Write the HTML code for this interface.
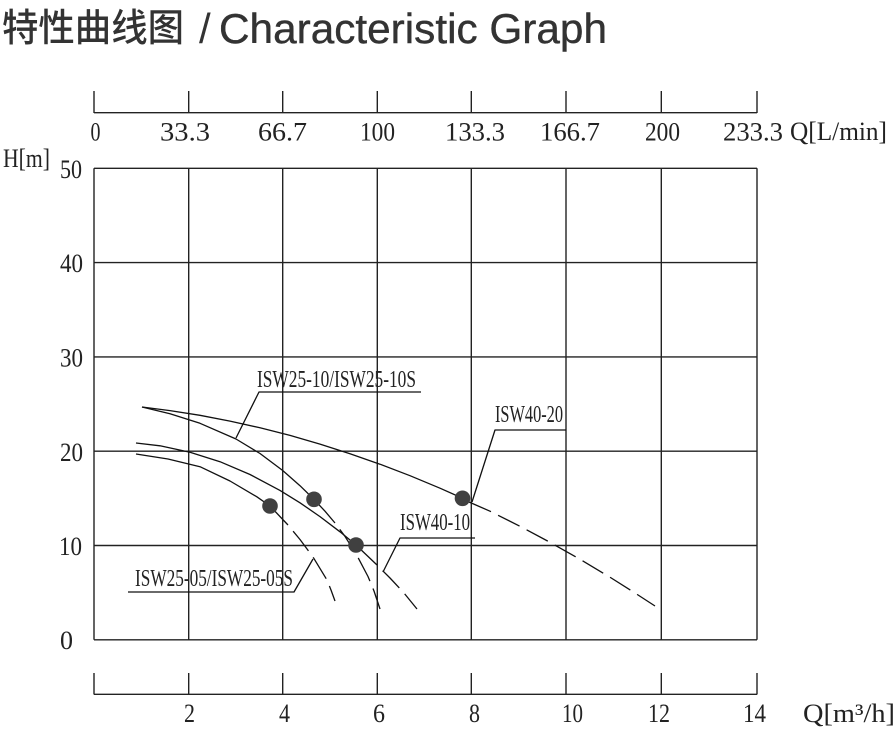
<!DOCTYPE html>
<html>
<head>
<meta charset="utf-8">
<style>
  html, body { margin: 0; padding: 0; background: #ffffff; }
  svg { display: block; }
</style>
</head>
<body>
<svg width="895" height="732" viewBox="0 0 895 732" xmlns="http://www.w3.org/2000/svg">
  <rect x="0" y="0" width="895" height="732" fill="#ffffff"/>

  <!-- Title -->
  <text x="2" y="41" font-family="'Noto Sans CJK SC', 'WenQuanYi Zen Hei', sans-serif" font-size="38" font-weight="500" fill="#333" textLength="182" lengthAdjust="spacingAndGlyphs">特性曲线图</text>
  <text x="199" y="43" font-family="'Liberation Sans', sans-serif" font-size="42" fill="#333">/</text>
  <text x="219" y="43" font-family="'Liberation Sans', sans-serif" font-size="42" fill="#333" stroke="#333" stroke-width="0.4" textLength="388" lengthAdjust="spacingAndGlyphs">Characteristic Graph</text>

  <g stroke="#222" stroke-width="1.4" fill="none">
    <!-- top axis -->
    <line x1="94" y1="112.7" x2="757" y2="112.7"/>
    <line x1="94" y1="91" x2="94" y2="113"/>
    <line x1="188.7" y1="91" x2="188.7" y2="113"/>
    <line x1="282.7" y1="91" x2="282.7" y2="113"/>
    <line x1="377.3" y1="91" x2="377.3" y2="113"/>
    <line x1="471.3" y1="91" x2="471.3" y2="113"/>
    <line x1="566" y1="91" x2="566" y2="113"/>
    <line x1="661.3" y1="91" x2="661.3" y2="113"/>
    <line x1="757" y1="91" x2="757" y2="113"/>

    <!-- bottom axis -->
    <line x1="94" y1="694.3" x2="757" y2="694.3"/>
    <line x1="94" y1="673" x2="94" y2="694.5"/>
    <line x1="188.7" y1="673" x2="188.7" y2="694.5"/>
    <line x1="282.7" y1="673" x2="282.7" y2="694.5"/>
    <line x1="377.3" y1="673" x2="377.3" y2="694.5"/>
    <line x1="471.3" y1="673" x2="471.3" y2="694.5"/>
    <line x1="566" y1="673" x2="566" y2="694.5"/>
    <line x1="661.3" y1="673" x2="661.3" y2="694.5"/>
    <line x1="757" y1="673" x2="757" y2="694.5"/>

    <!-- grid verticals -->
    <line x1="94" y1="168.3" x2="94" y2="639.8"/>
    <line x1="188.7" y1="168.3" x2="188.7" y2="639.8"/>
    <line x1="282.7" y1="168.3" x2="282.7" y2="639.8"/>
    <line x1="377.3" y1="168.3" x2="377.3" y2="639.8"/>
    <line x1="471.3" y1="168.3" x2="471.3" y2="639.8"/>
    <line x1="566" y1="168.3" x2="566" y2="639.8"/>
    <line x1="661.3" y1="168.3" x2="661.3" y2="639.8"/>
    <line x1="757" y1="168.3" x2="757" y2="639.8"/>

    <!-- grid horizontals -->
    <line x1="94" y1="168.3" x2="757" y2="168.3"/>
    <line x1="94" y1="262.6" x2="757" y2="262.6"/>
    <line x1="94" y1="356.9" x2="757" y2="356.9"/>
    <line x1="94" y1="451.2" x2="757" y2="451.2"/>
    <line x1="94" y1="545.5" x2="757" y2="545.5"/>
    <line x1="94" y1="639.8" x2="757" y2="639.8"/>
  </g>

  <!-- axis labels -->
  <g font-family="'Liberation Serif', 'Noto Serif CJK SC', serif" font-size="26" fill="#222">
    <text x="90.5" y="140.5" textLength="10" lengthAdjust="spacingAndGlyphs">0</text>
    <text x="160" y="140.5" textLength="50" lengthAdjust="spacingAndGlyphs">33.3</text>
    <text x="258" y="140.5" textLength="49" lengthAdjust="spacingAndGlyphs">66.7</text>
    <text x="360" y="140.5" textLength="35" lengthAdjust="spacingAndGlyphs">100</text>
    <text x="445" y="140.5" textLength="60" lengthAdjust="spacingAndGlyphs">133.3</text>
    <text x="540" y="140.5" textLength="60" lengthAdjust="spacingAndGlyphs">166.7</text>
    <text x="645" y="140.5" textLength="35" lengthAdjust="spacingAndGlyphs">200</text>
    <text x="723" y="140.5" textLength="60" lengthAdjust="spacingAndGlyphs">233.3</text>
    <text x="790" y="140" textLength="97" lengthAdjust="spacingAndGlyphs">Q[L/min]</text>

    <text x="3" y="167" textLength="47" lengthAdjust="spacingAndGlyphs">H[m]</text>
    <text x="60" y="178" textLength="22" lengthAdjust="spacingAndGlyphs">50</text>
    <text x="60" y="272" textLength="23" lengthAdjust="spacingAndGlyphs">40</text>
    <text x="60" y="366.5" textLength="23" lengthAdjust="spacingAndGlyphs">30</text>
    <text x="60" y="461" textLength="23" lengthAdjust="spacingAndGlyphs">20</text>
    <text x="59" y="555" textLength="23" lengthAdjust="spacingAndGlyphs">10</text>
    <text x="60" y="649" textLength="13" lengthAdjust="spacingAndGlyphs">0</text>

    <text x="184" y="722" textLength="11" lengthAdjust="spacingAndGlyphs">2</text>
    <text x="279" y="722" textLength="11" lengthAdjust="spacingAndGlyphs">4</text>
    <text x="373" y="722" textLength="12" lengthAdjust="spacingAndGlyphs">6</text>
    <text x="469" y="722" textLength="11" lengthAdjust="spacingAndGlyphs">8</text>
    <text x="562" y="722" textLength="21" lengthAdjust="spacingAndGlyphs">10</text>
    <text x="648" y="722" textLength="22" lengthAdjust="spacingAndGlyphs">12</text>
    <text x="743" y="722" textLength="23" lengthAdjust="spacingAndGlyphs">14</text>
    <text x="803" y="722" textLength="92" lengthAdjust="spacingAndGlyphs">Q[m³/h]</text>
  </g>

  <!-- curves -->
  <g stroke="#111" stroke-width="1.3" fill="none" stroke-linejoin="round" stroke-linecap="butt">
    <!-- ISW40-20 -->
    <polyline points="142,407 170,410.6 200,415.3 230,421.1 260,427.8 290,435.4 320,444.1 350,453.7 380,464.2 410,475.7 440,488.2 462,498"/>
    <polyline stroke-dasharray="24 8" points="469,502 490,511.2 520,526.3 550,542.3 580,559.3 610,577.2 635,593 655,606"/>

    <!-- ISW25-10 -->
    <polyline points="142,407 170,413.7 200,423.3 236,439 260,453.5 282.7,470.5 300,485.7 314,499.4 325,511.2 335,523"/>
    <polyline stroke-dasharray="26 8" stroke-dashoffset="26" points="335,523 345,536.4 357,555.6 368,576.5 374,591 380,609"/>

    <!-- ISW40-10 -->
    <polyline points="136,443 160,445.8 190,452.2 220,461.7 250,474.5 280,490.4 300,502.8 320,516.6 340,531.8 356,545 377,565"/>
    <polyline stroke-dasharray="24 8" stroke-dashoffset="24" points="377,565 390,578 404,593 417,609"/>

    <!-- ISW25-05 -->
    <polyline points="136,454 168,459 200,466.7 230,481 256.7,496.7 270,506 288,525"/>
    <polyline stroke-dasharray="25 8" stroke-dashoffset="25" points="288,525 300,539.5 313,557 327,580 331,590 335,601"/>

    <!-- leaders -->
    <polyline points="421,392 259,392 236,438"/>
    <polyline points="128,592 294,592 313,559"/>
    <polyline points="475,538 400,538 383,572"/>
    <polyline points="566,430 495,430 472,502"/>
  </g>

  <!-- dots -->
  <g fill="#404040">
    <circle cx="270" cy="506" r="7.8"/>
    <circle cx="314" cy="499.3" r="7.8"/>
    <circle cx="356" cy="545" r="7.8"/>
    <circle cx="462.5" cy="498.3" r="7.8"/>
  </g>

  <!-- curve labels -->
  <g font-family="'Liberation Serif', serif" font-size="24" fill="#222">
    <text x="257" y="387" textLength="159" lengthAdjust="spacingAndGlyphs">ISW25-10/ISW25-10S</text>
    <text x="135" y="586" textLength="158" lengthAdjust="spacingAndGlyphs">ISW25-05/ISW25-05S</text>
    <text x="400" y="530" textLength="70" lengthAdjust="spacingAndGlyphs">ISW40-10</text>
    <text x="495" y="422" textLength="68" lengthAdjust="spacingAndGlyphs">ISW40-20</text>
  </g>
</svg>
</body>
</html>
